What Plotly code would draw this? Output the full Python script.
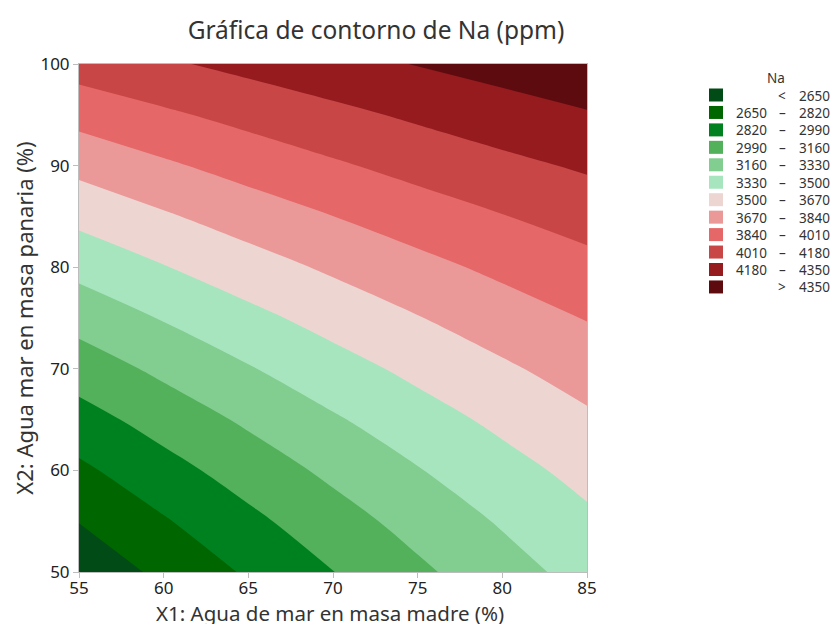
import plotly.graph_objects as go

# ---------------- data ----------------
x1_vals = [55, 60, 65, 70, 75, 80, 85]
x2_vals = [50, 55, 60, 65, 70, 75, 80, 85, 90, 95, 100]

# Na (ppm) estimated at each grid node; one row per X2 value, columns follow X1
na_y50 = [2530, 2689, 2841, 2987, 3128, 3262, 3390]
na_y55 = [2655, 2805, 2950, 3089, 3221, 3347, 3468]
na_y60 = [2786, 2929, 3066, 3197, 3321, 3440, 3552]
na_y65 = [2924, 3060, 3188, 3311, 3428, 3539, 3643]
na_y70 = [3070, 3197, 3318, 3433, 3542, 3645, 3742]
na_y75 = [3222, 3341, 3454, 3562, 3663, 3758, 3847]
na_y80 = [3381, 3492, 3598, 3697, 3790, 3878, 3959]
na_y85 = [3546, 3650, 3748, 3839, 3925, 4004, 4077]
na_y90 = [3719, 3815, 3905, 3988, 4066, 4138, 4203]
na_y95 = [3899, 3983, 4063, 4137, 4208, 4274, 4336]
na_y100 = [4085, 4157, 4227, 4293, 4357, 4417, 4475]
na_grid = [na_y50, na_y55, na_y60, na_y65, na_y70, na_y75,
           na_y80, na_y85, na_y90, na_y95, na_y100]

levels = [2650, 2820, 2990, 3160, 3330, 3500, 3670, 3840, 4010, 4180, 4350]
band_colors = ["#004B16", "#006600", "#008120", "#52B15A", "#82CD90", "#A7E5BE",
               "#EDD6D1", "#EB9898", "#E56767", "#C84646", "#951B1F", "#5E0B10"]

x_ticks = [55, 60, 65, 70, 75, 80, 85]
y_ticks = [50, 60, 70, 80, 90, 100]

# ---------------- figure ----------------
W, H = 834, 626
L, R, T, B = 79, 247, 64, 54
PW, PH = W - L - R, H - T - B

n_bands = len(band_colors)
colorscale = [[k / (n_bands - 1), c] for k, c in enumerate(band_colors)]
step = levels[1] - levels[0]

FONT = "Noto Sans"
fig = go.Figure()
fig.add_trace(go.Contour(
    x=x1_vals, y=x2_vals, z=na_grid,
    colorscale=colorscale, showscale=False,
    contours=dict(start=levels[0], end=levels[-1], size=step, coloring="fill"),
    line=dict(width=0, smoothing=1.0),
    hoverinfo="x+y+z",
))

def px_to_paper_x(px):
    return (px - L) / PW

def py_to_paper_y(py):
    return (H - B - py) / PH

annotations = []
shapes = []
leg_font = dict(family=FONT, size=13.5, color="#333333")
# legend title
annotations.append(dict(text="Na", x=px_to_paper_x(776), y=py_to_paper_y(78),
                        xref="paper", yref="paper", xanchor="center", yanchor="middle",
                        showarrow=False, height=15, borderpad=0,
                        font=dict(family=FONT, size=13.5, color="#333333")))
row0, row_gap = 95, 17.45
for k, col in enumerate(band_colors):
    cy = row0 + row_gap * k
    shapes.append(dict(type="rect", xref="paper", yref="paper",
                       x0=px_to_paper_x(709), x1=px_to_paper_x(723),
                       y0=py_to_paper_y(cy + 6.5), y1=py_to_paper_y(cy - 6.5),
                       fillcolor=col, line=dict(width=0)))
    if k == 0:
        left, mid, right = "", "<", str(levels[0])
    elif k == n_bands - 1:
        left, mid, right = "", ">", str(levels[-1])
    else:
        left, mid, right = str(levels[k - 1]), "–", str(levels[k])
    common = dict(xref="paper", yref="paper", yanchor="middle", showarrow=False,
                  font=leg_font, height=15, borderpad=0, y=py_to_paper_y(cy))
    if left:
        annotations.append(dict(text=left, x=px_to_paper_x(768), xanchor="right", **common))
    annotations.append(dict(text=mid, x=px_to_paper_x(782), xanchor="center", **common))
    annotations.append(dict(text=right, x=px_to_paper_x(831), xanchor="right", **common))

# x-axis title placed as an annotation under the tick labels
annotations.append(dict(text="X1: Agua de mar en masa madre (%)",
                        x=px_to_paper_x(330), y=py_to_paper_y(613),
                        xref="paper", yref="paper", xanchor="center", yanchor="middle",
                        showarrow=False, borderpad=0, height=22,
                        font=dict(family=FONT, size=20.5, color="#333333")))

axis_common = dict(showgrid=False, zeroline=False, showline=True, linecolor="#BDBDBD",
                   linewidth=1, mirror=True, ticks="outside", ticklen=5, tickcolor="#BDBDBD",
                   automargin=False,
                   tickfont=dict(family=FONT, size=17, color="#222222"))

fig.update_layout(
    width=W, height=H,
    margin=dict(l=L, r=R, t=T, b=B, autoexpand=False),
    paper_bgcolor="white", plot_bgcolor="white",
    title=dict(text="Gráfica de contorno de Na (ppm)", x=376 / W,
               xanchor="center", y=1 - 30 / H, yanchor="middle",
               font=dict(family=FONT, size=24.5, color="#333333")),
    xaxis=dict(range=[x_ticks[0], x_ticks[-1]], tickvals=x_ticks,
               ticklabelstandoff=-4, **axis_common),
    yaxis=dict(range=[y_ticks[0], y_ticks[-1]], tickvals=y_ticks,
               title=dict(text="X2: Agua mar en masa panaria (%)", standoff=0,
                          font=dict(family=FONT, size=22, color="#333333")),
               **axis_common),
    annotations=annotations, shapes=shapes,
    showlegend=False,
)

fig.write_html("out.html")
